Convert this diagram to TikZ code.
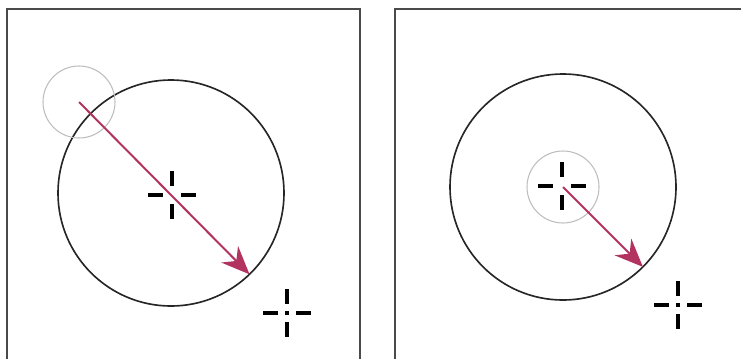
\documentclass[tikz,border=0pt]{standalone}
\usepackage{tikz}
\usetikzlibrary{arrows.meta,positioning,calc}
\definecolor{framegray}{HTML}{4A4A4A}
\definecolor{ringgray}{HTML}{BDBDBD}
\definecolor{dragred}{HTML}{B2335F}
\tikzset{
  frameline/.style={draw=framegray, line width=2pt},
  bigring/.style={circle, draw=black!85, line width=1.4pt, inner sep=0pt, outer sep=0pt,
                  minimum size=6.78cm},
  smallring/.style={circle, draw=ringgray, line width=0.9pt, inner sep=0pt, outer sep=0pt,
                    minimum size=2.16cm},
  drag/.style={-{Stealth[length=24pt, width=20pt, inset=8pt]}, line width=1.7pt, draw=dragred},
  cursor/.pic={
    \draw[line width=3pt] (-24,0) -- (-9,0) (9,0) -- (24,0) (0,-24) -- (0,-9) (0,9) -- (0,24);
  },
  cursordot/.pic={
    \draw[line width=3pt] (-24,0) -- (-9,0) (9,0) -- (24,0) (0,-24) -- (0,-9) (0,9) -- (0,24);
    \fill (-1.7,-1.7) rectangle (1.7,1.7);
  },
}
\begin{document}
\begin{tikzpicture}[x=0.03cm, y=-0.03cm]
  \useasboundingbox (0,0) rectangle (741,359);
  % panels
  \draw[frameline] (7,359) -- (7,9) -- (360,9) -- (360,359);
  \draw[frameline] (395,359) -- (395,9) -- (741,9);
  % left: drag from the edge
  \node[bigring] (bigL) at (171,193) {};
  \node[smallring] (smallL) at (79,102) {};
  \pic at (172,195) {cursor};
  \pic at (287,313) {cursordot};
  \draw[drag] (smallL.center) -- (bigL.-46);
  % right: drag from the centre
  \node[bigring] (bigR) at (563,187) {};
  \node[smallring] (smallR) at (563,187) {};
  \pic at (562,186) {cursor};
  \pic at (678,305) {cursordot};
  \draw[drag] (smallR.center) -- (bigR.-45);
\end{tikzpicture}
\end{document}
